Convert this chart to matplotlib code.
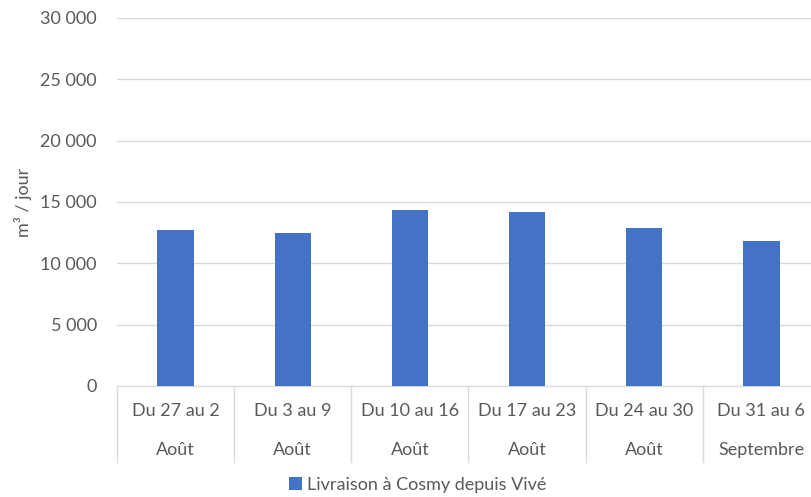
import matplotlib
matplotlib.use('Agg')
import matplotlib.pyplot as plt
import matplotlib.transforms as mtransforms
from matplotlib.patches import Patch
from matplotlib.ticker import FuncFormatter, MultipleLocator

# data
weeks = ["Du 27 au 2", "Du 3 au 9", "Du 10 au 16", "Du 17 au 23", "Du 24 au 30", "Du 31 au 6"]
months = ["Août", "Août", "Août", "Août", "Août", "Septembre"]
volumes = [12690, 12470, 14345, 14160, 12850, 11840]
series_name = "Livraison à Cosmy depuis Vivé"

bar_color = "#4472C4"
text_color = "#595959"
grid_color = "#D9D9D9"

plt.rcParams['font.family'] = ['Lato', 'DejaVu Sans']
fs = 13

W, H = 811, 497
fig = plt.figure(figsize=(W / 100, H / 100), dpi=100)
left, right, top, bottom = 117, 820, 18, 386
ax = fig.add_axes([left / W, (H - bottom) / H, (right - left) / W, (bottom - top) / H])

x = list(range(len(weeks)))
ax.bar(x, volumes, width=0.31, color=bar_color, zorder=3)

ax.set_xlim(-0.5, len(weeks) - 0.5)
ax.set_ylim(0, 30000)
ax.yaxis.set_major_locator(MultipleLocator(5000))
ax.yaxis.set_major_formatter(FuncFormatter(lambda v, p: f"{int(v):,}".replace(",", " ")))
ax.grid(axis='y', color=grid_color, linewidth=1, zorder=0)
ax.tick_params(axis='y', length=0, pad=14.5, labelsize=fs, labelcolor=text_color)
ax.tick_params(axis='x', length=0, labelbottom=False)
for side in ['left', 'right', 'top']:
    ax.spines[side].set_visible(False)
ax.spines['bottom'].set_color(grid_color)
ax.set_ylabel("m³ / jour", fontsize=fs, color=text_color, labelpad=6)

# two-level category labels with separators
trans = mtransforms.blended_transform_factory(ax.transData, ax.transAxes)
axis_h = (bottom - top)
sep_depth = (462 - bottom) / axis_h
for i in range(len(weeks) + 1):
    ax.plot([i - 0.5, i - 0.5], [0, -sep_depth], transform=trans, color=grid_color,
            linewidth=1, clip_on=False)
for i, (w, m) in enumerate(zip(weeks, months)):
    ax.text(i, -(411 - bottom) / axis_h, w, transform=trans, ha='center', va='center',
            fontsize=fs, color=text_color)
    ax.text(i, -(450 - bottom) / axis_h, m, transform=trans, ha='center', va='center',
            fontsize=fs, color=text_color)

handle = Patch(facecolor=bar_color, edgecolor='none')
fig.legend([handle], [series_name], loc='center', bbox_to_anchor=(418 / W, 1 - 485 / H),
           frameon=False, fontsize=fs, labelcolor=text_color, handlelength=0.7,
           handleheight=0.7, handletextpad=0.3)

fig.savefig("out.png", dpi=100)
